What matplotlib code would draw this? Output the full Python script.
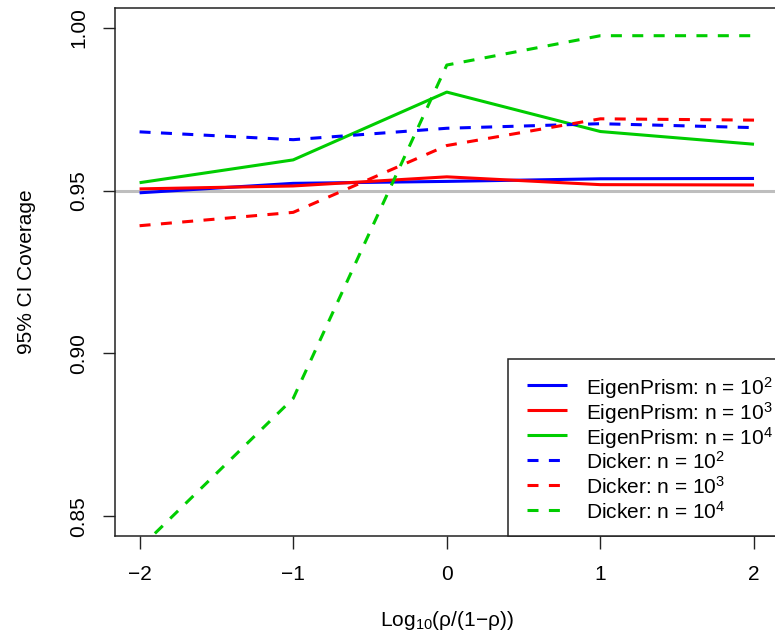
import matplotlib
matplotlib.use("Agg")
import matplotlib.pyplot as plt
from matplotlib.patches import Rectangle
from matplotlib.lines import Line2D
from matplotlib.ticker import FixedLocator, FormatStrFormatter

plt.rcParams["font.family"] = ["Liberation Sans", "DejaVu Sans"]
plt.rcParams["mathtext.fontset"] = "custom"
plt.rcParams["mathtext.rm"] = "Liberation Sans"
plt.rcParams["mathtext.it"] = "Liberation Sans:italic"
plt.rcParams["axes.unicode_minus"] = True

# log10 signal-to-noise ratio grid
log_snr = [-2, -1, 0, 1, 2]

# coverage of the 95% confidence intervals
eigenprism_n1e2 = [0.9493, 0.9522, 0.9528, 0.9536, 0.9537]
eigenprism_n1e3 = [0.9505, 0.9514, 0.9542, 0.9518, 0.9517]
eigenprism_n1e4 = [0.9524, 0.9594, 0.9802, 0.9681, 0.9642]
dicker_n1e2 = [0.9680, 0.9656, 0.9691, 0.9705, 0.9693]
dicker_n1e3 = [0.9392, 0.9433, 0.9638, 0.9720, 0.9716]
dicker_n1e4 = [0.8402, 0.8862, 0.9885, 0.9975, 0.9975]

x_ticks = [-2, -1, 0, 1, 2]
y_ticks = [0.85, 0.90, 0.95, 1.00]
nominal = 0.95

series = [
    ("EigenPrism: n = $\\mathregular{10^2}$", eigenprism_n1e2, "#0000FF", "-"),
    ("EigenPrism: n = $\\mathregular{10^3}$", eigenprism_n1e3, "#FF0000", "-"),
    ("EigenPrism: n = $\\mathregular{10^4}$", eigenprism_n1e4, "#00CD00", "-"),
    ("Dicker: n = $\\mathregular{10^2}$", dicker_n1e2, "#0000FF", "--"),
    ("Dicker: n = $\\mathregular{10^3}$", dicker_n1e3, "#FF0000", "--"),
    ("Dicker: n = $\\mathregular{10^4}$", dicker_n1e4, "#00CD00", "--"),
]

W, H = 775, 641
fig = plt.figure(figsize=(W / 100, H / 100), dpi=100)
left, right, top, bottom = 115, 778.6, 8, 536
ax = fig.add_axes([left / W, (H - bottom) / H, (right - left) / W, (bottom - top) / H])

FS = 15
LW = 2.2
DASH = (3.6, 3.4)
EDGE = "#222222"

ax.axhline(nominal, color="#BEBEBE", lw=LW, zorder=1)

for label, vals, col, ls in series:
    line, = ax.plot(log_snr, vals, color=col, lw=LW, zorder=2, solid_capstyle="butt")
    if ls == "--":
        line.set_dashes(DASH)

ax.set_xlim(-2.16, 2.16)
ax.set_ylim(0.85 - 0.006, 1.00 + 0.006)
ax.xaxis.set_major_locator(FixedLocator(x_ticks))
ax.yaxis.set_major_locator(FixedLocator(y_ticks))
ax.yaxis.set_major_formatter(FormatStrFormatter("%.2f"))

for s in ax.spines.values():
    s.set_color(EDGE)
    s.set_linewidth(1.1)

ax.tick_params(axis="both", direction="out", length=9, width=1.0, color=EDGE,
               labelsize=FS)
ax.tick_params(axis="x", pad=12)
ax.tick_params(axis="y", pad=10)
for t in ax.get_yticklabels():
    t.set_rotation(90)
    t.set_va("center")

ax.set_xlabel("Log$\\mathregular{_{10}}$(ρ/(1−ρ))", fontsize=FS, labelpad=18)
ax.set_ylabel("95% CI Coverage", fontsize=FS, labelpad=24)


# legend box in the lower-right corner, laid out in pixel units
def to_ax(px, py):
    return (px - left) / (right - left), (bottom - py) / (bottom - top)


bx0, by0 = to_ax(508, 359)
bx1, by1 = to_ax(right + 5, bottom)
ax.add_patch(Rectangle((bx0, by1), bx1 - bx0, by0 - by1, transform=ax.transAxes,
                       facecolor="white", edgecolor=EDGE, lw=1.1, zorder=5,
                       clip_on=False))
for i, (label, vals, col, ls) in enumerate(series):
    py = 385 + 25 * i
    hx0, hy = to_ax(527, py)
    hx1, _ = to_ax(567, py)
    h = Line2D([hx0, hx1], [hy, hy], transform=ax.transAxes, color=col, lw=LW,
               zorder=6, solid_capstyle="butt")
    if ls == "--":
        h.set_dashes(DASH)
    ax.add_line(h)
    tx, _ = to_ax(586, py)
    ax.text(tx, hy, label, transform=ax.transAxes, fontsize=FS, va="center_baseline",
            ha="left", zorder=6)

fig.savefig("out.png", dpi=100)
